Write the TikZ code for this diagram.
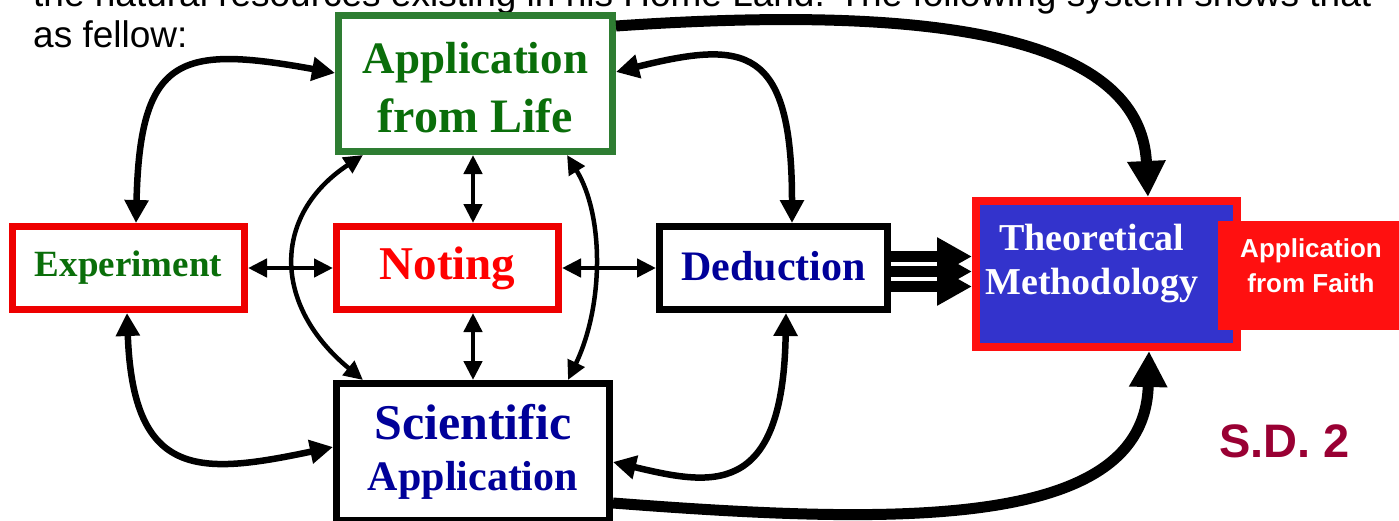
\documentclass[tikz,border=0pt]{standalone}
\usepackage{fontspec}
\setmainfont{Liberation Serif}
\setsansfont{Liberation Sans}
\usetikzlibrary{arrows.meta,calc}
\definecolor{boxgreen}{RGB}{46,125,50}
\definecolor{txtgreen}{RGB}{10,110,10}
\definecolor{boxred}{RGB}{238,0,0}
\definecolor{navy}{RGB}{0,0,153}
\definecolor{theoblue}{RGB}{51,51,204}
\definecolor{faithred}{RGB}{255,16,16}
\definecolor{sdred}{RGB}{153,0,51}
\begin{document}
\begin{tikzpicture}[x=1pt,y=-1pt,
  box/.style={draw, line width=7pt, inner sep=0pt, align=center, font=\bfseries},
  boxtext/.style={inner sep=0pt, anchor=base},
  conn/.style={line width=6.5pt, {Triangle[length=23pt,width=23pt]}-{Triangle[length=23pt,width=23pt]}},
  thinconn/.style={line width=4.5pt, {Triangle[length=19pt,width=18pt]}-{Triangle[length=19pt,width=18pt]}},
  thickconn/.style={line width=11pt, -{Triangle[length=36pt,width=36pt]}},
  triple/.style={line width=11pt, -{Triangle[length=35pt,width=36pt]}},
  plaintext/.style={inner sep=0pt, anchor=base west, font=\sffamily\fontsize{37}{42}\selectfont}
  ]
\useasboundingbox (0,0) rectangle (1399,520);

% intro text (cut at the top)
\node[plaintext] (intro1) at (33,6) {the natural resources existing in his Home Land. The following system shows that};
\node[plaintext] (intro2) at (33,47) {as fellow:};

% boxes
\node[box, draw=boxgreen, minimum width=274pt, minimum height=136pt] (life) at (475.5,83.5) {};
\node[boxtext, text=txtgreen, font=\bfseries\fontsize{45}{54}\selectfont] (life1) at (475.5,73) {Application};
\node[boxtext, text=txtgreen, font=\bfseries\fontsize{48}{54}\selectfont] (life2) at (475.5,132) {from Life};
\node[box, draw=boxred, text=txtgreen, minimum width=232pt, minimum height=83pt,
      font=\bfseries\fontsize{37}{44}\selectfont] (exp) at (128.5,268) {Experiment};
\node[box, draw=boxred, text=red, minimum width=222pt, minimum height=83pt,
      font=\bfseries\fontsize{47}{54}\selectfont] (noting) at (447.5,268) {Noting};
\node[box, draw=black, text=navy, minimum width=228pt, minimum height=83pt,
      font=\bfseries\fontsize{42}{50}\selectfont] (ded) at (773.5,268) {\raisebox{5pt}{Deduction}};
\node[box, draw=black, text=navy, minimum width=273pt, minimum height=137pt,
      font=\bfseries\fontsize{42}{51}\selectfont] (sci) at (473,452) {{\fontsize{50}{51}\selectfont Scientific}\\Application};
\node[draw=faithred, line width=8pt, fill=theoblue, inner sep=0pt,
      minimum width=261pt, minimum height=146pt] (theo) at (1106.5,274) {};
\node[text=white, align=center, inner sep=0pt, font=\bfseries\fontsize{38}{44}\selectfont] (theotext) at (1092,264) {Theoretical\\Methodology};
\node[fill=faithred, inner sep=0pt, minimum width=187pt, minimum height=109pt] (faith) at (1311.5,275.5) {};
\node[text=white, align=center, inner sep=0pt, font=\sffamily\bfseries\fontsize{26}{35}\selectfont] (faithtext) at (1311,265.5) {Application\\from Faith};
\node[text=sdred, inner sep=0pt, anchor=base west, font=\sffamily\bfseries\fontsize{47}{50}\selectfont] (sd) at (1219,457) {S.D. 2};

% curved double arrows
\draw[conn] ([xshift=7.5pt]exp.north) .. controls (140,55) and (180,45) .. ([yshift=10.5pt]life.west);
\draw[conn] ([yshift=11.5pt]life.east) .. controls (745,40) and (792,45) .. ([xshift=18.5pt]ded.north);
\draw[conn] ([xshift=-1.5pt]exp.south) .. controls (133,480) and (200,475) .. ([yshift=5pt]sci.west);
\draw[conn] ([xshift=12.5pt]ded.south) .. controls (783,500) and (710,485) .. ([yshift=-10pt]sci.east);

% straight double arrows
\draw[thinconn] (exp.east) -- (noting.west);
\draw[thinconn] (noting.east) -- (ded.west);
\coordinate (v1) at ([xshift=-2.5pt]life.south);
\draw[thinconn] (v1) -- (v1 |- noting.north);
\draw[thinconn] (sci.north |- noting.south) -- (sci.north);

% crossing double arrows
\draw[thinconn] ([xshift=28pt]life.south west) .. controls (272,215) and (272,305) .. ([xshift=30pt]sci.north west);
\draw[thinconn] ([xshift=-49pt]life.south east) .. controls (604,215) and (604,305) .. ([xshift=-45pt]sci.north east);

% thick arrows to theoretical methodology
\draw[thickconn] ([yshift=-14pt]life.north east) .. controls (880,8) and (1140,20) .. ([xshift=41.5pt]theo.north);
\draw[thickconn] ([yshift=-51pt]sci.east) .. controls (900,525) and (1145,530) .. ([xshift=42.5pt]theo.south);

% triple arrow
\coordinate (t1) at ([yshift=11.5pt]ded.east);
\coordinate (t2) at ([yshift=-3.5pt]ded.east);
\coordinate (t3) at ([yshift=-18.5pt]ded.east);
\draw[triple] (t1) -- (t1 -| theo.west);
\draw[triple] (t2) -- (t2 -| theo.west);
\draw[triple] (t3) -- (t3 -| theo.west);
\end{tikzpicture}
\end{document}
